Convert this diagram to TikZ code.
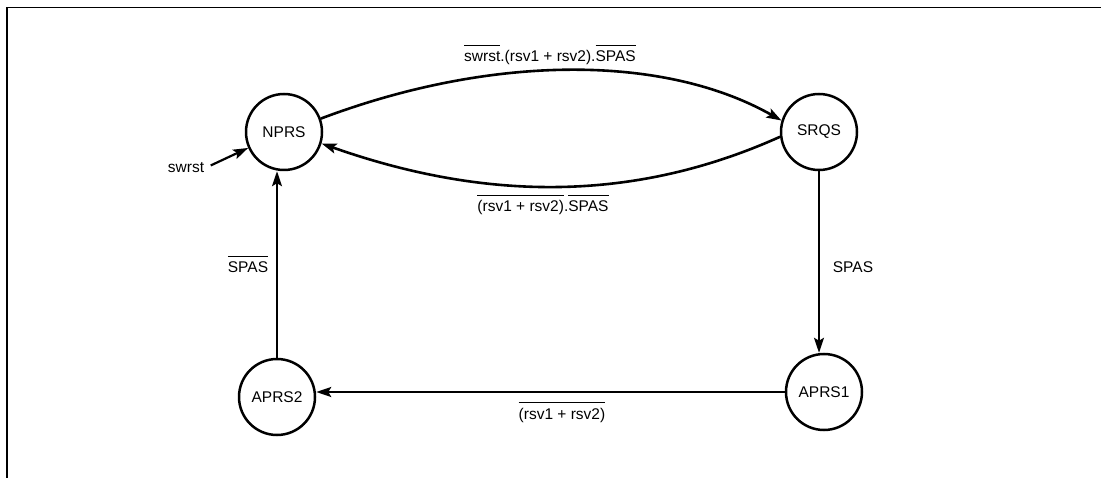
\documentclass[tikz,border=0pt]{standalone}
\usepackage{fontspec}
\setmainfont{Liberation Sans}
\usetikzlibrary{arrows.meta}
\newcommand\ovl[1]{\setbox0\hbox{#1}\rlap{\rule[15.5pt]{\wd0}{1.3pt}}\box0}
\begin{document}
\begin{tikzpicture}[x=1pt,y=-1pt,
  state/.style={circle,draw,line width=2.5pt,minimum size=76pt,inner sep=0pt,font=\fontsize{15.5}{18}\selectfont},
  lbl/.style={font=\fontsize{15.5}{18}\selectfont,inner sep=1pt,anchor=base},
  arr/.style={-{Stealth[length=15pt,width=10pt,inset=3pt]}},
  curvedge/.style={arr,line width=2.6pt},
  straightedge/.style={arr,line width=1.8pt}]
\useasboundingbox (0,0) rectangle (1101,478);
\draw[line width=1.8pt] (7,478) -- (7,7.5) -- (1101,7.5);
\node[state] (NPRS) at (284,132) {NPRS};
\node[state] (SRQS) at (819,132) {SRQS};
\node[state] (APRS2) at (277,397) {APRS2};
\node[state] (APRS1) at (824,392) {APRS1};
\draw[curvedge] (NPRS.20) .. controls (492,54) and (664,54) .. (SRQS.163);
\draw[curvedge] (SRQS.187) .. controls (635,202) and (487,202) .. (NPRS.343);
\draw[straightedge] (APRS2.north) -- (APRS2.north |- NPRS.south);
\draw[straightedge] (SRQS.south) -- (SRQS.south |- APRS1.north);
\draw[arr,line width=2.2pt] (APRS1.west) -- (APRS1.west -| APRS2.east);
\node[lbl,anchor=center] (sw) at (186,168) {swrst};
\draw[arr,line width=2.2pt,shorten <=6pt] (sw.east) -- (NPRS.204);
\node[lbl] (l1) at (550,61.5) {\ovl{swrst}.(rsv1 + rsv2).\ovl{SPAS}};
\node[lbl] (l2) at (543,211.5) {\ovl{(rsv1 + rsv2)}.\ovl{SPAS}};
\node[lbl] (l3) at (248,273) {\ovl{SPAS}};
\node[lbl] (l4) at (853,273) {SPAS};
\node[lbl] (l5) at (562,419) {\ovl{(rsv1 + rsv2)}};
\end{tikzpicture}
\end{document}
